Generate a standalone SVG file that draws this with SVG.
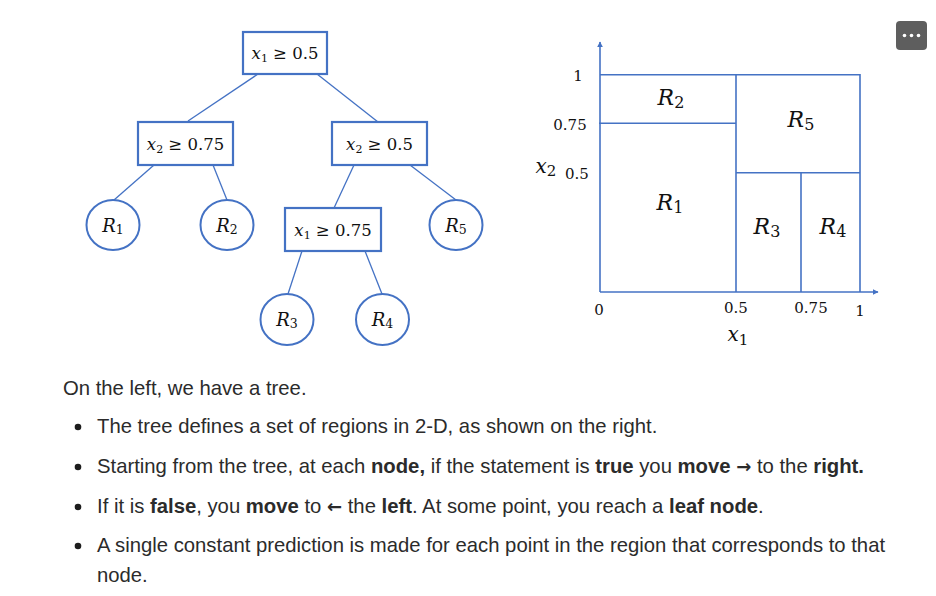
<svg xmlns="http://www.w3.org/2000/svg" width="936" height="596" viewBox="0 0 936 596">
<style>
.box{fill:#fff;stroke:#4472C4;stroke-width:2.2}
.leaf{fill:#fff;stroke:#4472C4;stroke-width:2}
.edge{stroke:#4472C4;stroke-width:1.3;fill:none}
.ax{stroke:#4472C4;stroke-width:1.6;fill:none}
.m{font-family:"DejaVu Serif","Liberation Serif",serif;fill:#111}
.it{font-style:italic}
.lbl{font-family:"DejaVu Serif","Liberation Serif",serif;font-size:15px;fill:#111;text-anchor:middle}
.p{font-family:"Liberation Sans","Noto Sans",sans-serif;font-size:20.3px;fill:#2b2b2b}
.b{font-weight:bold}
.ar{font-family:"DejaVu Sans",sans-serif;font-size:18px;font-weight:bold}
</style>
<defs>
<marker id="ah" viewBox="0 0 10 10" refX="9" refY="5" markerWidth="6" markerHeight="6" orient="auto" markerUnits="userSpaceOnUse">
<path d="M0,0 L10,5 L0,10 z" fill="#4472C4"/>
</marker>
</defs>
<rect width="936" height="596" fill="#fff"/>

<g id="connectors">
<line class="edge" x1="258" y1="74" x2="188" y2="121"/>
<line class="edge" x1="317" y1="74" x2="378" y2="122"/>
<line class="edge" x1="154" y1="165" x2="114" y2="200"/>
<line class="edge" x1="213" y1="165" x2="227" y2="200"/>
<line class="edge" x1="354" y1="165" x2="334" y2="208"/>
<line class="edge" x1="410" y1="165" x2="456" y2="200"/>
<line class="edge" x1="302" y1="251" x2="288" y2="294"/>
<line class="edge" x1="365" y1="251" x2="382" y2="294"/>
</g>

<g id="n-root">
<rect class="box" x="243" y="32" width="84" height="42"/>
<text class="m" x="285" y="59" font-size="16.5" text-anchor="middle"><tspan class="it">x</tspan><tspan font-size="11" dy="3">1</tspan><tspan dy="-3"> ≥ 0.5</tspan></text>
</g>
<g id="n-left">
<rect class="box" x="138" y="122" width="95" height="43"/>
<text class="m" x="185.5" y="150" font-size="16.5" text-anchor="middle"><tspan class="it">x</tspan><tspan font-size="11" dy="3">2</tspan><tspan dy="-3"> ≥ 0.75</tspan></text>
</g>
<g id="n-right">
<rect class="box" x="332" y="122" width="95" height="43"/>
<text class="m" x="379.5" y="150" font-size="16.5" text-anchor="middle"><tspan class="it">x</tspan><tspan font-size="11" dy="3">2</tspan><tspan dy="-3"> ≥ 0.5</tspan></text>
</g>
<g id="n-x1-075">
<rect class="box" x="285" y="208" width="96" height="43"/>
<text class="m" x="333" y="236" font-size="16.5" text-anchor="middle"><tspan class="it">x</tspan><tspan font-size="11" dy="3">1</tspan><tspan dy="-3"> ≥ 0.75</tspan></text>
</g>
<g id="leaf-R1">
<ellipse class="leaf" cx="113" cy="225" rx="26.5" ry="25"/>
<text class="m" x="113" y="232" font-size="18" text-anchor="middle"><tspan class="it">R</tspan><tspan font-size="12.5" dy="2">1</tspan></text>
</g>
<g id="leaf-R2">
<ellipse class="leaf" cx="227" cy="225" rx="26.5" ry="25"/>
<text class="m" x="227" y="232" font-size="18" text-anchor="middle"><tspan class="it">R</tspan><tspan font-size="12.5" dy="2">2</tspan></text>
</g>
<g id="leaf-R5">
<ellipse class="leaf" cx="456" cy="225" rx="26.5" ry="25"/>
<text class="m" x="456" y="232" font-size="18" text-anchor="middle"><tspan class="it">R</tspan><tspan font-size="12.5" dy="2">5</tspan></text>
</g>
<g id="leaf-R3">
<ellipse class="leaf" cx="287" cy="319.5" rx="26.5" ry="25.5"/>
<text class="m" x="287" y="326" font-size="18" text-anchor="middle"><tspan class="it">R</tspan><tspan font-size="12.5" dy="2">3</tspan></text>
</g>
<g id="leaf-R4">
<ellipse class="leaf" cx="382.5" cy="319.5" rx="26.5" ry="25.5"/>
<text class="m" x="382.5" y="326" font-size="18" text-anchor="middle"><tspan class="it">R</tspan><tspan font-size="12.5" dy="2">4</tspan></text>
</g>

<g id="plot">
<line class="ax" x1="600" y1="292" x2="600" y2="42" marker-end="url(#ah)"/>
<line class="ax" x1="600" y1="292" x2="878" y2="292" marker-end="url(#ah)"/>
<polyline class="ax" points="600,74.7 860,74.7 860,292"/>
<line class="ax" x1="736" y1="74.7" x2="736" y2="292"/>
<line class="ax" x1="599" y1="123.3" x2="736" y2="123.3"/>
<line class="ax" x1="736" y1="172.7" x2="860" y2="172.7"/>
<line class="ax" x1="801" y1="172.7" x2="801" y2="292"/>
<text class="lbl" x="578" y="81">1</text>
<text class="lbl" x="570" y="129.5">0.75</text>
<text class="lbl" x="577" y="178.5">0.5</text>
<text class="m" x="546" y="173" font-size="20" text-anchor="middle"><tspan class="it">x</tspan><tspan font-size="15" dy="3">2</tspan></text>
<text class="lbl" x="599" y="315">0</text>
<text class="lbl" x="736" y="313">0.5</text>
<text class="lbl" x="811" y="313">0.75</text>
<text class="lbl" x="860" y="316">1</text>
<text class="m" x="738" y="341" font-size="20" text-anchor="middle"><tspan class="it">x</tspan><tspan font-size="15" dy="4">1</tspan></text>
<text class="m" x="671" y="105" font-size="22" text-anchor="middle"><tspan class="it">R</tspan><tspan font-size="16" dy="3">2</tspan></text>
<text class="m" x="801" y="127" font-size="22" text-anchor="middle"><tspan class="it">R</tspan><tspan font-size="16" dy="3">5</tspan></text>
<text class="m" x="670" y="210" font-size="22" text-anchor="middle"><tspan class="it">R</tspan><tspan font-size="16" dy="3">1</tspan></text>
<text class="m" x="767" y="234" font-size="22" text-anchor="middle"><tspan class="it">R</tspan><tspan font-size="16" dy="3">3</tspan></text>
<text class="m" x="833" y="234" font-size="22" text-anchor="middle"><tspan class="it">R</tspan><tspan font-size="16" dy="3">4</tspan></text>
</g>

<g id="menu">
<rect x="896" y="21" width="31" height="29" rx="4" fill="#5e5e5e"/>
<circle cx="904.5" cy="35.5" r="1.8" fill="#fff"/>
<circle cx="911.5" cy="35.5" r="1.8" fill="#fff"/>
<circle cx="918.5" cy="35.5" r="1.8" fill="#fff"/>
</g>

<g id="text">
<text class="p" x="63" y="395">On the left, we have a tree.</text>
<circle cx="78" cy="427" r="3.3" fill="#1d1d1d"/>
<circle cx="78" cy="467" r="3.3" fill="#1d1d1d"/>
<circle cx="78" cy="507" r="3.3" fill="#1d1d1d"/>
<circle cx="78" cy="546" r="3.3" fill="#1d1d1d"/>
<text class="p" x="97" y="433">The tree defines a set of regions in 2-D, as shown on the right.</text>
<text class="p" x="97" y="473">Starting from the tree, at each <tspan class="b">node,</tspan> if the statement is <tspan class="b">true</tspan> you <tspan class="b">move</tspan> <tspan class="ar">→</tspan> to the <tspan class="b">right.</tspan></text>
<text class="p" x="97" y="513">If it is <tspan class="b">false</tspan>, you <tspan class="b">move</tspan> to <tspan class="ar">←</tspan> the <tspan class="b">left</tspan>. At some point, you reach a <tspan class="b">leaf node</tspan>.</text>
<text class="p" x="97" y="552">A single constant prediction is made for each point in the region that corresponds to that</text>
<text class="p" x="97" y="582">node.</text>
</g>
</svg>
